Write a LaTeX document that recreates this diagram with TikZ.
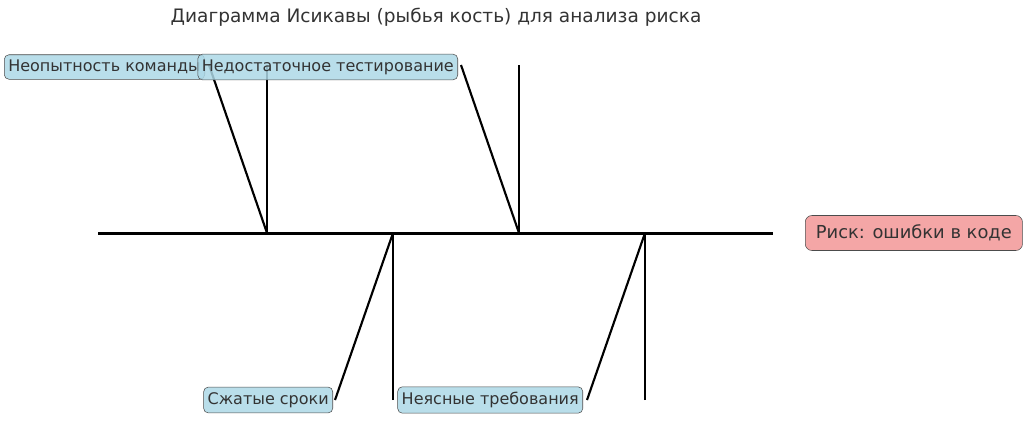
\documentclass[tikz,border=0pt]{standalone}
\usepackage{fontspec}
\setmainfont{DejaVu Sans}
\definecolor{causefill}{RGB}{173,216,230}
\definecolor{riskfill}{RGB}{240,128,128}
\definecolor{txt}{RGB}{51,51,51}

\begin{document}
\begin{tikzpicture}[x=0.75pt,y=-0.75pt,
  cause/.style={draw=black!70,fill=causefill,fill opacity=0.85,text opacity=1,
    text=txt,rounded corners=3.5pt,inner xsep=3pt,inner ysep=4pt,font=\fontsize{12}{14}\selectfont},
  risk/.style={draw=black!70,fill=riskfill,fill opacity=0.7,text opacity=1,
    text=txt,rounded corners=5pt,inner xsep=8pt,inner ysep=7pt,font=\fontsize{13.4}{16}\selectfont},
  spine/.style={line width=2.25pt},
  bone/.style={line width=1.6pt}]
\useasboundingbox (0,0) rectangle (1024,426);

%%% Title
\node[text=txt,font=\fontsize{13.9}{16}\selectfont] (title) at (436,17) {Диаграмма Исикавы (рыбья кость) для анализа риска};

%%% Spine and head
\coordinate (tail) at (98,233);
\coordinate (head) at (773,233);
\draw[spine] (tail) -- (head);
\node[risk,anchor=west] (riskbox) at (805,233) {Риск: ошибки в коде};

%%% Points on the spine
\coordinate (s1) at (267,233);
\coordinate (s2) at (393,233);
\coordinate (s3) at (519,233);
\coordinate (s4) at (645,233);

%%% Upper bones
\coordinate (v1) at (267,65);
\coordinate (v3) at (519,65);
\coordinate (d1) at (209,65);
\coordinate (d3) at (461,65);
\draw[bone] (v1) -- (s1);
\draw[bone] (v3) -- (s3);
\draw[bone] (d1) -- (s1);
\draw[bone] (d3) -- (s3);

%%% Lower bones
\coordinate (v2) at (393,400);
\coordinate (v4) at (645,400);
\coordinate (d2) at (335,400);
\coordinate (d4) at (587,400);
\draw[bone] (v2) -- (s2);
\draw[bone] (v4) -- (s4);
\draw[bone] (d2) -- (s2);
\draw[bone] (d4) -- (s4);

%%% Cause labels
\node[cause,anchor=east] (team) at (205,67) {Неопытность команды};
\node[cause,anchor=east] (testing) at (458,67) {Недостаточное тестирование};
\node[cause,anchor=east] (deadline) at (333,400) {Сжатые сроки};
\node[cause,anchor=east] (reqs) at (583,400) {Неясные требования};
\end{tikzpicture}
\end{document}
